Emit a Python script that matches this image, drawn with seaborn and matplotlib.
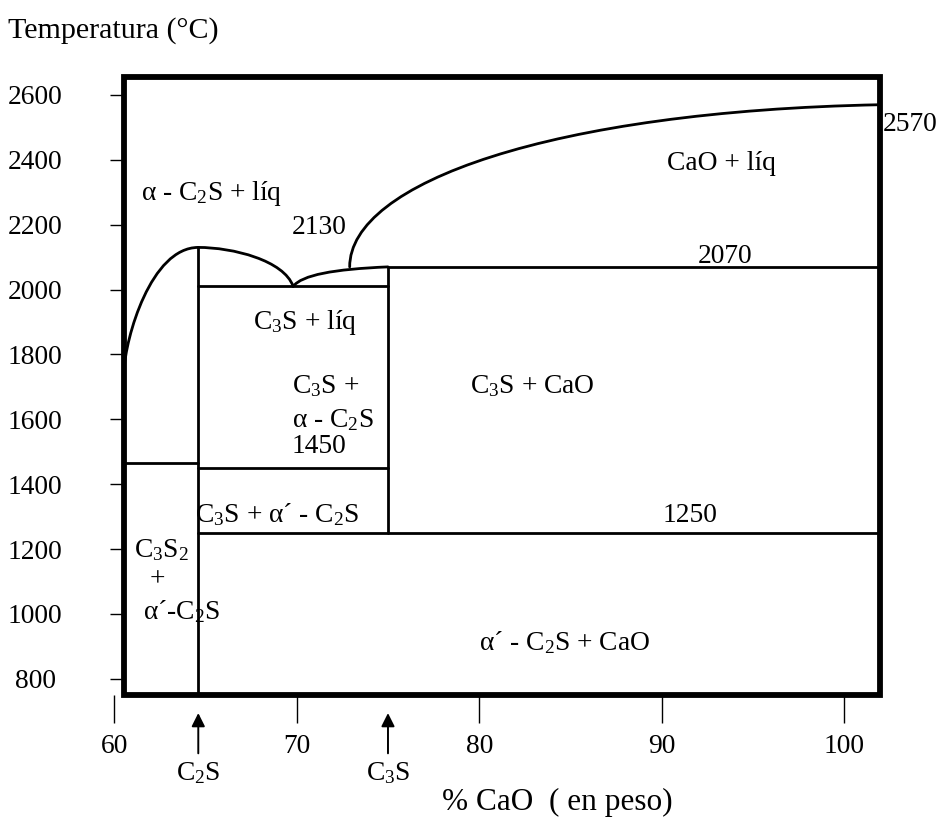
import matplotlib
matplotlib.use("Agg")
import matplotlib.pyplot as plt
from matplotlib.path import Path
from matplotlib.patches import PathPatch, Rectangle
import pandas as pd
import seaborn as sns

# ---- diagram data: CaO–SiO2 system, 60–100 % CaO ----
# frame of the diagram (% CaO, °C)
frame_x = [60.53, 101.97]
frame_t = [750, 2655]

# compound compositions (% CaO)
x_c2s = 64.6
x_c3s = 75.0

# invariant temperatures (°C)
t_c2s_melt = 2130
t_eutectic = 2010
t_c3s_top = 2070
t_c3s2 = 1464
t_1450 = 1450
t_1250 = 1250
t_cao_melt = 2570

# liquidus curves, given as cubic Bezier control points
liq_left_x = [60.53, 60.6, 62.0, 64.6]
liq_left_t = [1750, 1850, 2130, t_c2s_melt]
liq_c2s_x = [64.6, 66.5, 69.3, 69.8]
liq_c2s_t = [t_c2s_melt, 2130, 2090, t_eutectic]
liq_c3s_x = [69.8, 70.3, 72.0, 75.0]
liq_c3s_t = [t_eutectic, 2045, 2063, t_c3s_top]
liq_cao_x = [72.9, 72.9, 84.0, 101.97]
liq_cao_t = [t_c3s_top, 2330, 2550, t_cao_melt]

# axis ticks
x_ticks = [60, 70, 80, 90, 100]
y_ticks = [800, 1000, 1200, 1400, 1600, 1800, 2000, 2200, 2400, 2600]

# field labels: (text, % CaO, °C, horizontal alignment)
field_labels = [
    ("α - C$_2$S + líq", 65.35, 2295, "center"),
    ("2130", 71.21, 2190, "center"),
    ("CaO + líq", 93.30, 2390, "center"),
    ("2070", 93.46, 2101, "center"),
    ("C$_3$S + líq", 70.45, 1900, "center"),
    ("C$_3$S +", 69.73, 1703, "left"),
    ("α - C$_2$S", 69.73, 1598, "left"),
    ("1450", 69.73, 1515, "left"),
    ("C$_3$S + CaO", 82.89, 1703, "center"),
    ("C$_3$S + α´ - C$_2$S", 68.91, 1305, "center"),
    ("1250", 91.55, 1302, "center"),
    ("C$_3$S$_2$", 62.60, 1198, "center"),
    ("+", 62.33, 1105, "center"),
    ("α´-C$_2$S", 63.70, 1006, "center"),
    ("α´ - C$_2$S + CaO", 84.70, 911, "center"),
]

# compounds marked under the composition axis
compound_names = ["C$_2$S", "C$_3$S"]
compound_x = [x_c2s, x_c3s]

# ---- style ----
sns.set_theme(style="white")
plt.rcParams["font.family"] = ["Liberation Serif", "DejaVu Serif"]
plt.rcParams["mathtext.fontset"] = "custom"
plt.rcParams["mathtext.rm"] = "Liberation Serif"
plt.rcParams["mathtext.it"] = "Liberation Serif"
plt.rcParams["mathtext.bf"] = "Liberation Serif"

FS = 19.8
LW = 2.0

fig = plt.figure(figsize=(9.41, 8.24), dpi=100)
ax = fig.add_axes([110 / 941, 1 - 695 / 824, 790 / 941, 635 / 824])

# straight phase boundaries
segments = [
    ((x_c2s, t_c2s_melt), (x_c2s, frame_t[0])),
    ((x_c3s, t_c3s_top), (x_c3s, t_1250)),
    ((x_c2s, t_eutectic), (x_c3s, t_eutectic)),
    ((x_c3s, t_c3s_top), (frame_x[1], t_c3s_top)),
    ((frame_x[0], t_c3s2), (x_c2s, t_c3s2)),
    ((x_c2s, t_1450), (x_c3s, t_1450)),
    ((x_c2s, t_1250), (frame_x[1], t_1250)),
]
rows = []
for i, (p0, p1) in enumerate(segments):
    rows.append({"seg": i, "x": p0[0], "t": p0[1]})
    rows.append({"seg": i, "x": p1[0], "t": p1[1]})
seg_df = pd.DataFrame(rows)
sns.lineplot(data=seg_df, x="x", y="t", units="seg", estimator=None,
             sort=False, color="black", lw=LW, ax=ax, legend=False)

# liquidus curves
for cx, ct in [(liq_left_x, liq_left_t), (liq_c2s_x, liq_c2s_t),
               (liq_c3s_x, liq_c3s_t), (liq_cao_x, liq_cao_t)]:
    path = Path(list(zip(cx, ct)),
                [Path.MOVETO, Path.CURVE4, Path.CURVE4, Path.CURVE4])
    ax.add_patch(PathPatch(path, fill=False, lw=LW, edgecolor="black",
                           capstyle="round"))

# heavy frame
ax.add_patch(Rectangle((frame_x[0], frame_t[0]), frame_x[1] - frame_x[0],
                       frame_t[1] - frame_t[0], fill=False, lw=4.2,
                       edgecolor="black", joinstyle="miter", clip_on=False,
                       zorder=5))

ax.set_xlim(59.76, 103.07)
ax.set_ylim(750, 2707.9)
for s in ax.spines.values():
    s.set_visible(False)

ax.set_xticks(x_ticks)
ax.set_yticks(y_ticks)
ax.set_xticklabels([str(v) for v in x_ticks])
ax.set_yticklabels([str(v) for v in y_ticks])
ax.tick_params(axis="x", bottom=True, top=False, direction="out", length=20,
               width=1, color="black", pad=8, labelsize=FS, labelcolor="black")
ax.tick_params(axis="y", left=True, right=False, direction="in", length=10,
               width=1, color="black", pad=54, labelsize=FS, labelcolor="black")
for lbl in ax.get_yticklabels():
    lbl.set_horizontalalignment("center")
ax.set_xlabel("")
ax.set_ylabel("")

# field labels
for txt, x, t, ha in field_labels:
    ax.text(x, t, txt, ha=ha, va="center", fontsize=FS, color="black")
ax.text(102.13, t_cao_melt - 60, "2570", ha="left", va="center",
        fontsize=FS, color="black", clip_on=False)

# compound arrows and names under the axis
for name, cx in zip(compound_names, compound_x):
    ax.annotate("", xy=(cx, -13), xycoords=("data", "axes points"),
                xytext=(cx, -42), textcoords=("data", "axes points"),
                arrowprops=dict(arrowstyle="-|>", lw=1.4, color="black",
                                mutation_scale=20, shrinkA=0, shrinkB=0))
    ax.annotate(name, xy=(cx, -56), xycoords=("data", "axes points"),
                ha="center", va="center", fontsize=FS, color="black")

fig.text(557 / 941, 1 - 802 / 824, "% CaO  ( en peso)", ha="center",
         va="center", fontsize=22.5, color="black")
fig.text(8 / 941, 1 - 31 / 824, "Temperatura (°C)", ha="left", va="center",
         fontsize=21.6, color="black")

fig.savefig("out.png", dpi=100, facecolor="white")
